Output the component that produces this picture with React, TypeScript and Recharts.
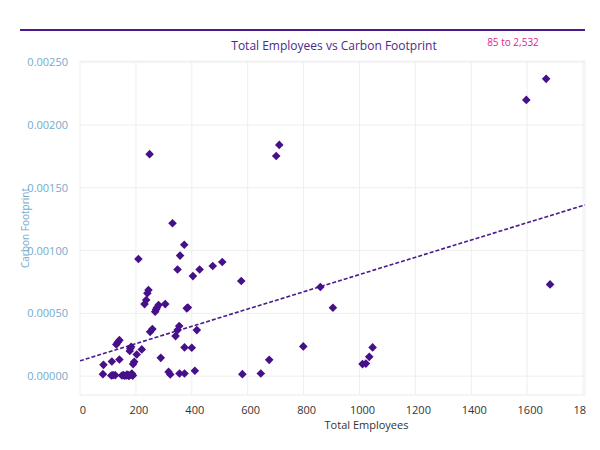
import React from 'react';
import { ScatterChart, Scatter, XAxis, YAxis, CartesianGrid, ReferenceLine } from 'recharts';

const employees = [82, 84, 112, 114, 118, 126, 130, 135, 141, 141, 150, 155, 160, 166, 168, 172, 174, 176, 178, 180, 182, 183, 186, 188, 189, 190, 194, 203, 209, 221, 231, 237, 241, 245, 249, 251, 259, 269, 272, 275, 281, 289, 305, 317, 323, 331, 342, 349, 349, 355, 356, 358, 373, 374, 374, 382, 386, 400, 404, 411, 418, 428, 475, 509, 577, 581, 647, 677, 702, 713, 799, 860, 905, 1011, 1023, 1035, 1047, 1597, 1668, 1682];
const footprint = [0.000016, 0.00009, 0.000005, 0.000117, 0.000008, 0.000008, 0.000253, 0.00027, 0.000287, 0.000133, 0.000005, 0.000008, 0.000003, 0.000005, 0.000012, 0.000008, 0.000004, 0.000003, 0.0002, 0.00022, 0.000012, 0.000234, 0.00002, 0.000005, 0.000006, 0.000096, 0.000114, 0.000173, 0.000933, 0.000213, 0.000574, 0.000606, 0.00066, 0.000686, 0.001768, 0.000353, 0.000375, 0.000513, 0.00053, 0.000545, 0.000566, 0.000146, 0.000574, 0.000034, 0.000013, 0.001218, 0.000319, 0.000367, 0.00085, 0.000399, 0.000021, 0.00096, 0.001047, 0.000229, 0.000021, 0.00054, 0.000547, 0.000226, 0.000797, 0.000043, 0.000367, 0.00085, 0.000877, 0.000909, 0.000758, 0.000016, 0.000021, 0.00013, 0.001754, 0.001842, 0.000237, 0.00071, 0.000545, 0.000096, 0.0001, 0.000154, 0.000229, 0.0022, 0.002368, 0.000731];

const xTicks = [0, 200, 400, 600, 800, 1000, 1200, 1400, 1600, 1800];
const yTicks = [0, 0.0005, 0.001, 0.0015, 0.002, 0.0025];
const trendX = [0, 1807];
const trendY = [0.000122, 0.001364];

const title = 'Total Employees vs Carbon Footprint';
const rangeNote = '85 to 2,532';

const data = employees.map((x, i) => ({ x, y: footprint[i] }));

const Diamond = (props: any) => {
  const { cx, cy } = props;
  if (cx == null || cy == null) return null;
  const r = 4.3;
  return <path d={`M${cx},${cy - r}L${cx + r},${cy}L${cx},${cy + r}L${cx - r},${cy}Z`} fill="#46108a" />;
};

const XTick = (props: any) => {
  const { x, y, payload } = props;
  return (
    <g>
      <defs>
        <clipPath id={`xc${payload.value}`}>
          <rect x={0} y={0} width={586} height={450} />
        </clipPath>
      </defs>
      <text x={x + 3} y={y + 11} textAnchor="middle" fill="#333" fontSize={11} fontFamily="'Open Sans', sans-serif" clipPath={`url(#xc${payload.value})`}>
        {payload.value}
      </text>
    </g>
  );
};

const YLabel = (props: any) => {
  const { viewBox } = props;
  const cy = viewBox ? viewBox.y + viewBox.height / 2 : 228;
  return (
    <text x={25} y={cy} transform={`rotate(-90 25 ${cy})`} textAnchor="middle" dominantBaseline="central" fill="#74aacb" fontSize={10} fontFamily="'Open Sans', sans-serif">
      Carbon Footprint
    </text>
  );
};

export default function App() {
  return (
    <div style={{ position: 'absolute', left: 0, top: 0, width: 600, height: 450, background: '#fff' }}>
      <svg width={600} height={60} style={{ position: 'absolute', left: 0, top: 0 }}>
        <line x1={20} x2={585} y1={30} y2={30} stroke="#4b1a8c" strokeWidth={2} />
        <text x={334} y={50} textAnchor="middle" fill="#4b2a8a" fontSize={12} fontFamily="'Open Sans', sans-serif">{title}</text>
        <text x={513} y={46} textAnchor="middle" fill="#e0258e" fontSize={10} fontFamily="'Open Sans', sans-serif">{rangeNote}</text>
      </svg>
      <div style={{ position: 'absolute', left: 0, top: 0 }}>
        <ScatterChart width={600} height={450} margin={{ top: 61, right: 15, bottom: 15, left: 0 }}>
          <CartesianGrid stroke="#eeeeee" strokeWidth={1} />
          <XAxis
            type="number"
            dataKey="x"
            domain={[0, 1807]}
            ticks={xTicks}
            allowDataOverflow
            height={40}
            axisLine={{ stroke: '#f2f2f2' }}
            tickLine={false}
            tick={<XTick />}
            label={{ value: 'Total Employees', position: 'insideBottom', offset: 6, dx: 34, fill: '#333', fontSize: 11, fontFamily: "'Open Sans', sans-serif" }}
          />
          <YAxis
            type="number"
            dataKey="y"
            domain={[-0.00015, 0.00251]}
            ticks={yTicks}
            allowDataOverflow
            width={80}
            axisLine={false}
            tickLine={false}
            tickFormatter={(v: number) => v.toFixed(5)}
            tick={{ fill: '#74aacb', fontSize: 11, fontFamily: "'Open Sans', sans-serif" }}
            tickMargin={6}
            label={<YLabel />}
          />
          <ReferenceLine
            segment={[{ x: trendX[0], y: trendY[0] }, { x: trendX[1], y: trendY[1] }]}
            stroke="#4b1a8c"
            strokeWidth={1.6}
            strokeDasharray="4 2"
            ifOverflow="hidden"
          />
          <Scatter data={data} shape={<Diamond />} isAnimationActive={false} />
        </ScatterChart>
      </div>
    </div>
  );
}
